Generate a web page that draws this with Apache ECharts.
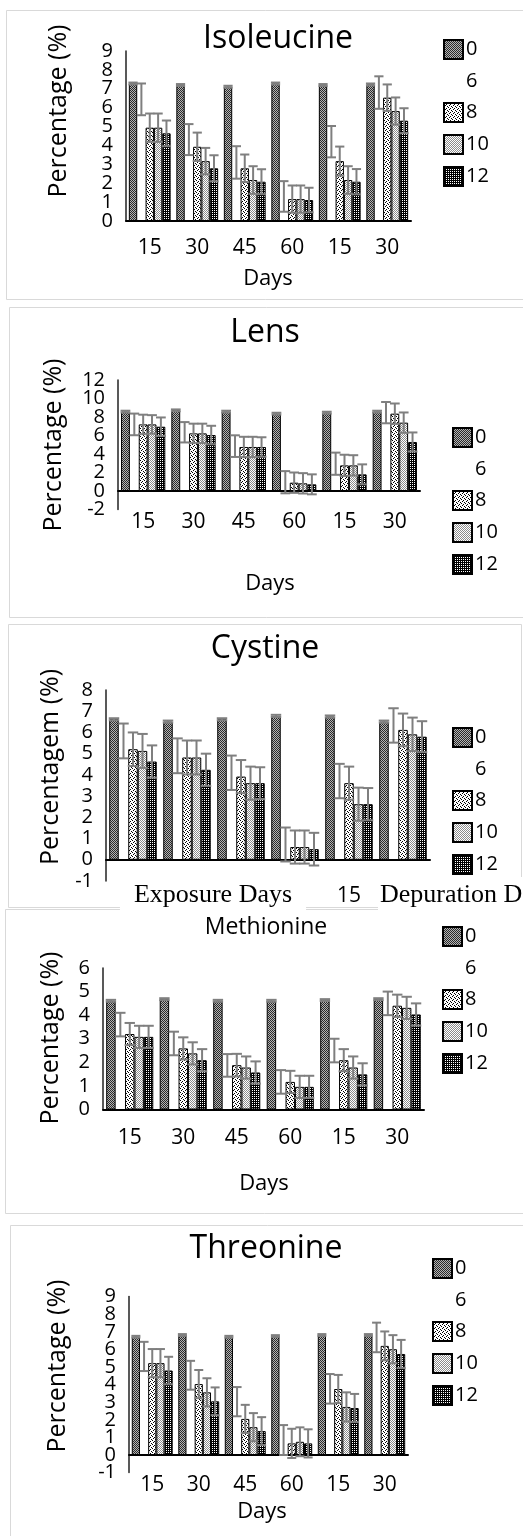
<!DOCTYPE html>
<html>
<head>
<meta charset="utf-8">
<script src="https://cdn.jsdelivr.net/npm/echarts@6/dist/echarts.min.js"></script>
<style>
  html, body { margin: 0; padding: 0; background: #fff; }
  #chart { width: 523px; height: 1536px; }
</style>
</head>
<body>
<div id="chart"></div>
<script>
// categories and legend
var days = ["15", "30", "45", "60", "15", "30"];
var doses = ["0", "6", "8", "10", "12"];

// y tick labels, bottom to top
var isoleucineTicks = ["0", "1", "2", "3", "4", "5", "6", "7", "8", "9"];
var lensTicks = ["-2", "0", "2", "4", "6", "8", "10", "12"];
var cystineTicks = ["-1", "0", "1", "2", "3", "4", "5", "6", "7", "8"];
var methionineTicks = ["0", "1", "2", "3", "4", "5", "6"];
var threonineTicks = ["-1", "0", "1", "2", "3", "4", "5", "6", "7", "8", "9"];

// rows follow doses, columns follow days
var isoleucineMeans = [
  [7.28, 7.2, 7.11, 7.28, 7.2, 7.23],
  [6.44, 4.31, 3.1, 1.3, 4.2, 6.8],
  [4.94, 3.93, 2.79, 1.16, 3.17, 6.53],
  [4.94, 3.17, 2.17, 1.16, 2.17, 5.82],
  [4.64, 2.79, 2.08, 1.11, 2.08, 5.31]
];
var isoleucineErrors = [
  [0.05, 0.05, 0.05, 0.05, 0.05, 0.05],
  [0.84, 0.82, 0.86, 0.81, 0.83, 0.86],
  [0.75, 0.75, 0.73, 0.72, 0.77, 0.7],
  [0.75, 0.7, 0.73, 0.72, 0.73, 0.72],
  [0.68, 0.69, 0.66, 0.65, 0.67, 0.66]
];

var lensMeans = [
  [8.58, 8.72, 8.58, 8.36, 8.47, 8.58],
  [7.2, 6.35, 4.85, 0.95, 2.95, 8.47],
  [7.2, 6.23, 4.76, 0.9, 2.77, 8.36],
  [7.2, 6.23, 4.76, 0.83, 2.77, 7.39],
  [6.95, 6.05, 4.76, 0.72, 1.8, 5.3]
];
var lensErrors = [
  [0.1, 0.1, 0.1, 0.1, 0.1, 0.1],
  [1.17, 1.1, 1.17, 1.2, 1.2, 1.15],
  [1.05, 1.05, 1.1, 1.1, 1.15, 1.1],
  [1.0, 1.05, 1.1, 1.1, 1.1, 1.1],
  [1.0, 1.0, 1.05, 1.08, 1.08, 1.03]
];

var cystineMeans = [
  [6.62, 6.51, 6.62, 6.78, 6.75, 6.51],
  [5.6, 4.9, 4.1, 0.72, 3.71, 6.33],
  [5.21, 4.82, 3.92, 0.6, 3.61, 6.12],
  [5.13, 4.82, 3.61, 0.6, 2.62, 5.91],
  [4.63, 4.24, 3.61, 0.5, 2.62, 5.8]
];
var cystineErrors = [
  [0.05, 0.05, 0.05, 0.05, 0.05, 0.05],
  [0.82, 0.82, 0.81, 0.8, 0.81, 0.81],
  [0.79, 0.8, 0.78, 0.78, 0.78, 0.77],
  [0.8, 0.8, 0.78, 0.78, 0.78, 0.79],
  [0.76, 0.76, 0.75, 0.77, 0.76, 0.73]
];

var methionineMeans = [
  [4.61, 4.68, 4.61, 4.61, 4.64, 4.68],
  [3.6, 2.8, 1.87, 1.17, 2.5, 4.5],
  [3.2, 2.59, 1.88, 1.17, 2.09, 4.4],
  [3.08, 2.38, 1.78, 0.96, 1.78, 4.31],
  [3.08, 2.09, 1.57, 0.96, 1.49, 4.03]
];
var methionineErrors = [
  [0.04, 0.04, 0.04, 0.04, 0.04, 0.04],
  [0.5, 0.5, 0.48, 0.5, 0.5, 0.5],
  [0.47, 0.47, 0.48, 0.47, 0.47, 0.47],
  [0.47, 0.47, 0.47, 0.47, 0.47, 0.47],
  [0.47, 0.47, 0.47, 0.47, 0.47, 0.47]
];

var threonineMeans = [
  [6.72, 6.82, 6.72, 6.76, 6.82, 6.82],
  [5.6, 4.53, 3.03, 0.85, 3.76, 6.68],
  [5.22, 4.03, 2.05, 0.66, 3.75, 6.2],
  [5.22, 3.56, 1.58, 0.75, 2.73, 6.01],
  [4.8, 3.05, 1.36, 0.66, 2.67, 5.74]
];
var threonineErrors = [
  [0.05, 0.05, 0.05, 0.05, 0.05, 0.05],
  [0.83, 0.82, 0.83, 0.85, 0.84, 0.84],
  [0.8, 0.8, 0.8, 0.83, 0.8, 0.82],
  [0.8, 0.8, 0.8, 0.82, 0.83, 0.8],
  [0.78, 0.79, 0.79, 0.8, 0.8, 0.8]
];

var FONT = "Open Sans";

// fill patterns for the bars
function makePattern(size, bg, fg, pts) {
  var c = document.createElement("canvas");
  c.width = size;
  c.height = size;
  var ctx = c.getContext("2d");
  ctx.fillStyle = bg;
  ctx.fillRect(0, 0, size, size);
  ctx.fillStyle = fg;
  pts.forEach(function (p) { ctx.fillRect(p[0], p[1], 1, 1); });
  return { image: c, repeat: "repeat" };
}
var fills = [
  makePattern(2, "#b4b4b4", "#2a2a2a", [[0, 0], [1, 1]]),
  "rgba(255,255,255,0)",
  makePattern(4, "#ffffff", "#000000", [[0, 0], [2, 1], [1, 2], [3, 3]]),
  makePattern(4, "#ffffff", "#8c8c8c", [[0, 0], [1, 1], [2, 0], [3, 1], [0, 2], [1, 3], [2, 2], [3, 3]]),
  makePattern(2, "#000000", "#ffffff", [[0, 0]])
];

var panels = [
  { title: "Isoleucine", yName: "Percentage (%)", means: isoleucineMeans, errs: isoleucineErrors, ticks: isoleucineTicks,
    grid: { left: 126, top: 51, width: 285, height: 170 }, min: 0, max: 9, interval: 1, labelMargin: 17,
    titleXY: [278, 39], titleSize: 32, nameXY: [59, 111], daysXY: [268, 279], legend: [438, 34] },
  { title: "Lens", yName: "Percentage (%)", means: lensMeans, errs: lensErrors, ticks: lensTicks,
    grid: { left: 118, top: 380, width: 302, height: 129.5 }, min: -2, max: 12, interval: 2, labelMargin: 2.5,
    titleXY: [265, 333], titleSize: 32, nameXY: [54, 445], daysXY: [270, 584], legend: [447, 422] },
  { title: "Cystine", yName: "Percentagem (%)", means: cystineMeans, errs: cystineErrors, ticks: cystineTicks,
    grid: { left: 106, top: 690, width: 324, height: 191 }, min: -1, max: 8, interval: 1, labelMargin: 5,
    titleXY: [265, 649], titleSize: 32, nameXY: [51, 767], daysXY: null, legend: [447, 722] },
  { title: "Methionine", yName: "Percentage (%)", means: methionineMeans, errs: methionineErrors, ticks: methionineTicks,
    grid: { left: 103, top: 968, width: 321, height: 141.5 }, min: 0, max: 6, interval: 1, labelMargin: 18.5,
    titleXY: [266, 927], titleSize: 23, nameXY: [51, 1038], daysXY: [264, 1184], legend: [437, 921] },
  { title: "Threonine", yName: "Percentage (%)", means: threonineMeans, errs: threonineErrors, ticks: threonineTicks,
    grid: { left: 129, top: 1296.6, width: 279, height: 176 }, min: -1, max: 9, interval: 1, labelMargin: 2.4,
    titleXY: [266, 1249], titleSize: 32, nameXY: [58, 1366], daysXY: [262, 1512], legend: [427, 1253] }
];

var GAP = 0.12; // barCategoryGap

function renderError(params, api) {
  var cat = api.value(0), k = api.value(1), v = api.value(2), e = api.value(3);
  var cw = api.size([1, 0])[0];
  var bw = cw * (1 - GAP) / 5;
  var cx = api.coord([cat, 0])[0] - cw * (1 - GAP) / 2 + (k + 0.5) * bw;
  var yTop = api.coord([cat, v + e])[1];
  var yBot = api.coord([cat, v - e])[1];
  var h = bw * 0.55;
  var st = { stroke: "#7f7f7f", lineWidth: 2 };
  return {
    type: "group",
    children: [
      { type: "line", shape: { x1: cx, y1: yTop, x2: cx, y2: yBot }, style: st },
      { type: "line", shape: { x1: cx - h, y1: yTop, x2: cx + h, y2: yTop }, style: st },
      { type: "line", shape: { x1: cx - h, y1: yBot, x2: cx + h, y2: yBot }, style: st }
    ]
  };
}

var grids = [], xAxes = [], yAxes = [], series = [], legends = [], graphics = [];

// panel frames
[[6.5, 10.5, 520, 289], [9.5, 307.5, 520, 310], [8.5, 624.5, 513, 283], [5.5, 909.5, 520, 304], [10.5, 1225.5, 520, 330]]
  .forEach(function (r) {
    graphics.push({ type: "rect", z: -1, shape: { x: r[0], y: r[1], width: r[2], height: r[3] },
      style: { fill: "none", stroke: "#d9d9d9", lineWidth: 1 } });
  });

panels.forEach(function (p, gi) {
  grids.push(p.grid);
  // axis line sitting on zero
  xAxes.push({
    gridIndex: gi, type: "category", data: days, position: "bottom",
    axisTick: { show: false },
    axisLine: { onZero: true, lineStyle: { color: "#000", width: 2 } },
    axisLabel: { show: false }
  });
  // day labels under the plot
  xAxes.push({
    gridIndex: gi, type: "category", data: days, position: "bottom",
    axisTick: { show: false },
    axisLine: { show: false, onZero: false },
    axisLabel: { color: "#000", fontSize: 21, fontFamily: FONT, margin: p.labelMargin, interval: 0 }
  });
  // value axis for the bars
  yAxes.push({
    gridIndex: gi, type: "value", min: p.min, max: p.max, interval: p.interval,
    splitLine: { show: false },
    axisTick: { show: false },
    axisLabel: { show: false },
    axisLine: { show: true, onZero: false, lineStyle: { color: "#222", width: 1.5 } }
  });
  // tick labels, every one kept even where they crowd each other
  yAxes.push({
    gridIndex: gi, type: "category", data: p.ticks, boundaryGap: false, position: "left",
    axisLine: { show: false, onZero: false },
    axisTick: { show: false },
    splitLine: { show: false },
    axisLabel: { color: "#000", fontSize: 20, fontFamily: FONT, margin: 13, interval: 0 }
  });
  doses.forEach(function (d, k) {
    var style = k === 1
      ? { color: fills[1] }
      : { color: fills[k], borderColor: "#000", borderWidth: 1 };
    series.push({
      type: "bar", name: d, xAxisIndex: 2 * gi, yAxisIndex: 2 * gi,
      data: p.means[k], barGap: "0%", barCategoryGap: GAP * 100 + "%",
      itemStyle: style, silent: true
    });
  });
  var errData = [];
  p.means.forEach(function (row, k) {
    row.forEach(function (v, c) { errData.push([c, k, v, p.errs[k][c]]); });
  });
  series.push({
    type: "custom", name: "err" + gi, xAxisIndex: 2 * gi, yAxisIndex: 2 * gi, z: 5, silent: true,
    renderItem: renderError, data: errData,
    encode: { x: 0, y: 2 }
  });
  legends.push({
    orient: "vertical", left: p.legend[0], top: p.legend[1],
    itemWidth: 19, itemHeight: 19, itemGap: 11, icon: "rect",
    selectedMode: false, data: doses,
    textStyle: { color: "#000", fontSize: 20, fontFamily: FONT, padding: [0, 0, 0, -2] }
  });
  graphics.push({ type: "text", x: p.titleXY[0], y: p.titleXY[1], z: 50,
    style: { text: p.title, fill: "#000", fontSize: p.titleSize, fontFamily: FONT, align: "center", verticalAlign: "middle" } });
  graphics.push({ type: "text", x: p.nameXY[0], y: p.nameXY[1], rotation: Math.PI / 2, z: 50,
    style: { text: p.yName, fill: "#000", fontSize: 25, fontFamily: FONT, align: "center", verticalAlign: "middle" } });
  if (p.daysXY) {
    graphics.push({ type: "text", x: p.daysXY[0], y: p.daysXY[1], z: 50,
      style: { text: "Days", fill: "#000", fontSize: 22, fontFamily: FONT, align: "center", verticalAlign: "middle" } });
  }
});

// Cystine: text boxes laid over the day labels
graphics.push({ type: "text", x: 213, y: 895, z: 60,
  style: { text: "Exposure Days", fill: "#000", fontSize: 26, fontFamily: "Liberation Serif",
    align: "center", verticalAlign: "middle", backgroundColor: "#fff", padding: [8, 14, 2, 14] } });
graphics.push({ type: "text", x: 378, y: 895, z: 60,
  style: { text: "Depuration Days", fill: "#000", fontSize: 26, fontFamily: "Liberation Serif",
    align: "left", verticalAlign: "middle", backgroundColor: "#fff", padding: [8, 4, 2, 2] } });

var chart = echarts.init(document.getElementById("chart"));
chart.setOption({
  animation: false,
  backgroundColor: "#fff",
  grid: grids,
  xAxis: xAxes,
  yAxis: yAxes,
  legend: legends,
  series: series,
  graphic: { elements: graphics }
});
</script>
</body>
</html>
